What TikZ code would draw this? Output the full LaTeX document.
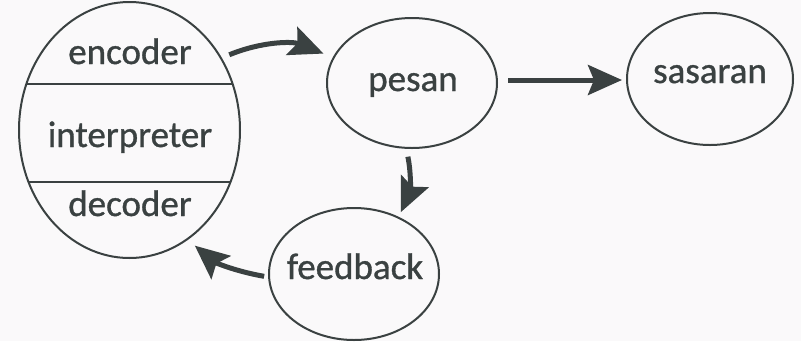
\documentclass[tikz,border=0pt]{standalone}
\usepackage{fontspec}
\setmainfont{Carlito}[FakeBold=0.9]
\usetikzlibrary{arrows.meta,shapes.geometric}
\definecolor{ink}{HTML}{3A4141}
\definecolor{paper}{HTML}{FAF9FA}
\begin{document}
\begin{tikzpicture}[x=1pt,y=-1pt,
  oval/.style={draw=ink,line width=2pt,ellipse,inner sep=0pt},
  lbl/.style={text=ink,font=\fontsize{37}{40}\selectfont,anchor=base,inner sep=0pt},
  arr/.style={draw=ink,line width=5pt,-{Stealth[length=34pt,width=30pt,inset=6pt]}}]
\fill[paper] (0,0) rectangle (801,341);
\useasboundingbox (0,0) rectangle (801,341);
% nodes
\node[oval,minimum width=221pt,minimum height=256pt] (sender) at (129.5,130) {};
\node[oval,minimum width=170pt,minimum height=130pt] (pesan) at (412,83) {};
\node[oval,minimum width=166pt,minimum height=132pt] (sasaran) at (710,79) {};
\node[oval,minimum width=170pt,minimum height=132pt] (feedback) at (354,274) {};
% dividers
\begin{scope}
\clip (129.5,130) ellipse [x radius=110.5pt, y radius=128pt];
\draw[ink,line width=2pt] (0,84) coordinate (d1a) -- (260,84) coordinate (d1b);
\draw[ink,line width=2pt] (0,182) coordinate (d2a) -- (260,182) coordinate (d2b);
\end{scope}
% labels
\node[lbl] (tenc) at (130,64) {encoder};
\node[lbl] (tint) at (130,147) {interpreter};
\node[lbl] (tdec) at (130,216) {decoder};
\node[lbl] (tpes) at (413,91) {pesan};
\node[lbl] (tsas) at (710,83) {sasaran};
\node[lbl] (tfee) at (355,279) {feedback};
% connectors
\draw[arr,shorten <=8pt,shorten >=10pt] (sender.38) to[bend left=22] (pesan.162);
\draw[arr,shorten <=10pt,shorten >=4pt] ([yshift=3pt]pesan.east) -- ([yshift=3pt]pesan.east -| sasaran.west);
\draw[arr,shorten <=8pt,shorten >=5pt] (pesan.-95) to[bend left=18] (feedback.52);
\draw[arr,shorten <=4pt,shorten >=9pt] (feedback.182) to[bend left=15] (sender.-62);
\end{tikzpicture}
\end{document}
